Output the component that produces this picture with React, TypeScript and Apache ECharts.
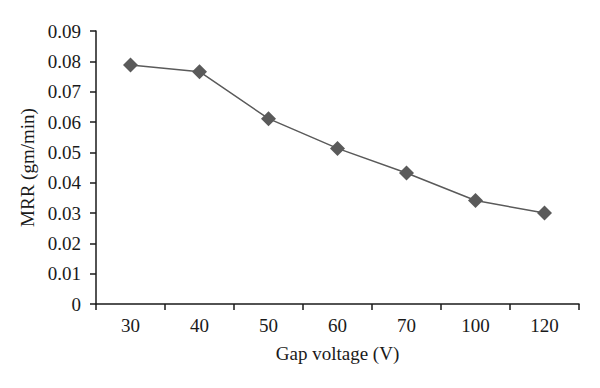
import React, { useEffect, useRef } from "react";
import * as echarts from "echarts";

const categories = ["30", "40", "50", "60", "70", "100", "120"];
const mrrValues = [0.0788, 0.0766, 0.0611, 0.0513, 0.0432, 0.0341, 0.0300];
const yTicks = [0, 0.01, 0.02, 0.03, 0.04, 0.05, 0.06, 0.07, 0.08, 0.09];

export default function App() {
  const ref = useRef<HTMLDivElement>(null);
  useEffect(() => {
    if (!ref.current) return;
    const chart = echarts.init(ref.current, null, { renderer: "svg" });
    const font = "'Liberation Serif', 'Times New Roman', serif";
    chart.setOption({
      animation: false,
      backgroundColor: "#fff",
      grid: { left: 96, top: 31, right: 21, bottom: 84 },
      xAxis: {
        type: "category",
        data: categories,
        boundaryGap: true,
        name: "Gap voltage (V)",
        nameLocation: "middle",
        nameGap: 40,
        nameTextStyle: { fontFamily: font, fontSize: 19, color: "#1a1a1a" },
        axisLine: { lineStyle: { color: "#1a1a1a", width: 1.5 } },
        axisTick: { show: true, length: 6, inside: false, lineStyle: { color: "#1a1a1a", width: 1.5 } },
        axisLabel: { fontFamily: font, fontSize: 19, color: "#1a1a1a", margin: 12 },
        splitLine: { show: false },
      },
      yAxis: {
        type: "value",
        min: 0,
        max: yTicks[yTicks.length - 1],
        interval: 0.01,
        name: "MRR (gm/min)",
        nameLocation: "middle",
        nameGap: 56,
        nameTextStyle: { fontFamily: font, fontSize: 19, color: "#1a1a1a" },
        axisLine: { show: true, lineStyle: { color: "#1a1a1a", width: 1.5 } },
        axisTick: { show: true, length: 6, inside: false, lineStyle: { color: "#1a1a1a", width: 1.5 } },
        axisLabel: {
          fontFamily: font,
          fontSize: 19,
          color: "#1a1a1a",
          margin: 15,
          formatter: (v: number) => (v === 0 ? "0" : v.toFixed(2)),
        },
        splitLine: { show: false },
      },
      series: [
        {
          type: "line",
          data: mrrValues,
          symbol: "diamond",
          symbolSize: 15,
          itemStyle: { color: "#5a5a5a" },
          lineStyle: { color: "#5a5a5a", width: 1.5 },
        },
      ],
    });
    return () => chart.dispose();
  }, []);
  return <div ref={ref} style={{ width: 600, height: 388, position: "absolute", left: 0, top: 0 }} />;
}
